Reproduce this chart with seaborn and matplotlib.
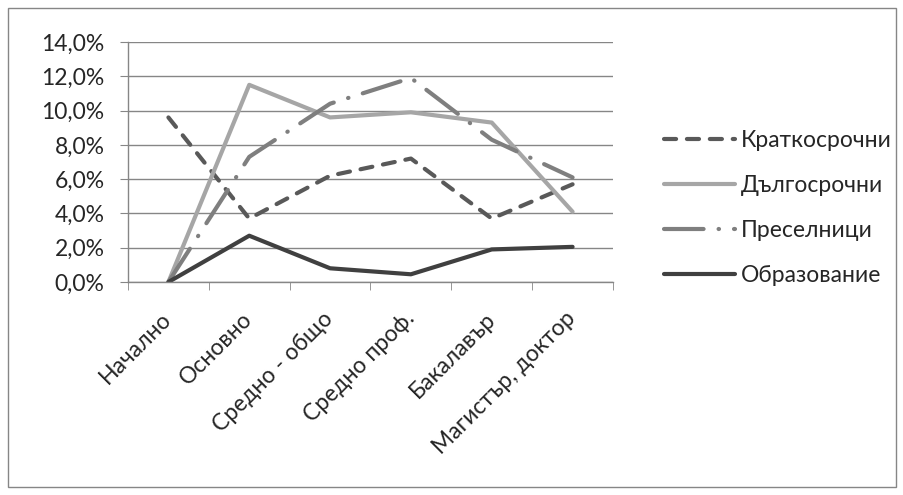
import matplotlib

matplotlib.use("Agg")
import matplotlib.pyplot as plt
import numpy as np
import pandas as pd
import seaborn as sns
from matplotlib.patches import Rectangle
from matplotlib.ticker import FixedLocator, FuncFormatter

# --- Data ---
categories = ["Начално", "Основно", "Средно - общо", "Средно проф.", "Бакалавър", "Магистър, доктор"]
series_names = ["Краткосрочни", "Дългосрочни", "Преселници", "Образование"]
short_term = [9.6, 3.7, 6.2, 7.2, 3.7, 5.7]
long_term = [0.0, 11.5, 9.6, 9.9, 9.3, 4.1]
settlers = [0.0, 7.3, 10.4, 11.9, 8.3, 6.1]
education = [0.0, 2.7, 0.8, 0.45, 1.9, 2.05]

# --- Styles ---
palette = {
    "Краткосрочни": "#595959",
    "Дългосрочни": "#a6a6a6",
    "Преселници": "#7f7f7f",
    "Образование": "#404040",
}
dashes = {
    "Краткосрочни": (2.9, 2.6),
    "Дългосрочни": "",
    "Преселници": (9.5, 3.6, 0.1, 3.6),
    "Образование": "",
}

rows = []
for name, vals in zip(series_names, [short_term, long_term, settlers, education]):
    for i, v in enumerate(vals):
        rows.append({"pos": i, "value": v, "series": name})
df = pd.DataFrame(rows)

sns.set_style("white")
plt.rcParams["font.family"] = ["Lato", "Noto Sans", "DejaVu Sans"]
FS = 16.5

fig = plt.figure(figsize=(9.04, 4.95), dpi=100)
ax = fig.add_axes([128 / 904, 1 - 282 / 495, (613 - 128) / 904, (282 - 42) / 495])

sns.lineplot(
    data=df,
    x="pos",
    y="value",
    hue="series",
    style="series",
    hue_order=series_names,
    style_order=series_names,
    palette=palette,
    dashes=dashes,
    linewidth=3.0,
    ax=ax,
    legend=True,
)
for line in ax.get_lines():
    line.set_dash_capstyle("round")
    line.set_solid_capstyle("round")

ax.set_xlim(-0.5, 5.5)
ax.set_ylim(0, 14)
ax.set_yticks(np.arange(0, 15, 2))
ax.yaxis.set_major_formatter(FuncFormatter(lambda v, p: f"{v:.1f}%".replace(".", ",")))
ax.grid(axis="y", color="#868686", linewidth=1)
ax.set_axisbelow(True)

ax.set_xticks(range(len(categories)))
ax.set_xticklabels(categories, rotation=45, ha="right", va="center", rotation_mode="anchor")
ax.xaxis.set_minor_locator(FixedLocator(np.arange(-0.5, 6, 1)))
ax.tick_params(axis="x", which="major", length=0, pad=24, labelsize=FS)
ax.tick_params(axis="x", which="minor", length=6, color="#868686", direction="out", bottom=True)
ax.tick_params(axis="y", length=6, color="#868686", direction="out", left=True, labelsize=FS, pad=11)
ax.set_xlabel("")
ax.set_ylabel("")

for side in ["top", "right"]:
    ax.spines[side].set_visible(False)
for side in ["left", "bottom"]:
    ax.spines[side].set_color("#868686")
    ax.spines[side].set_linewidth(1)

handles, labels = ax.get_legend_handles_labels()
ax.legend(
    handles,
    labels,
    loc="center left",
    bbox_to_anchor=(643 / 904, 1 - 208 / 495),
    bbox_transform=fig.transFigure,
    frameon=False,
    fontsize=FS,
    handlelength=3.1,
    handletextpad=0.25,
    labelspacing=1.05,
)

fig.patches.append(
    Rectangle((8 / 904, 8 / 495), 888 / 904, 479 / 495, transform=fig.transFigure,
              fill=False, edgecolor="#868686", linewidth=1)
)

fig.savefig("out.png", dpi=100)
